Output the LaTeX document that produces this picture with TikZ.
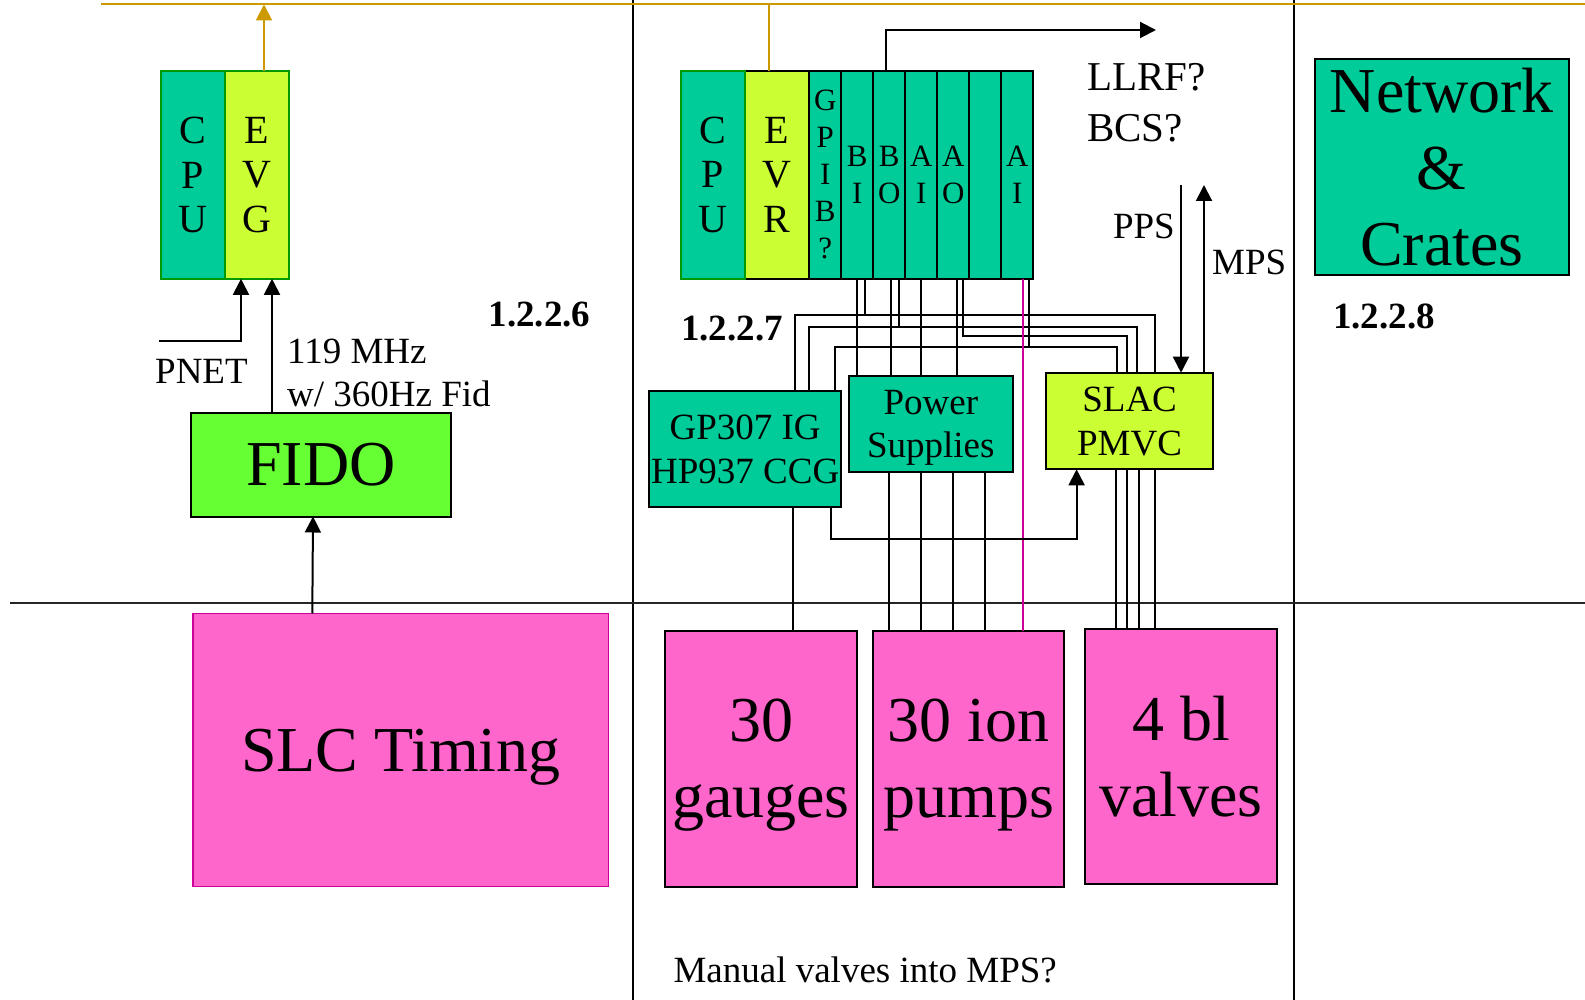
\documentclass[tikz,border=0pt]{standalone}
\usepackage{fontspec}
\setmainfont{Liberation Serif}
\usetikzlibrary{positioning, arrows.meta}

\definecolor{modgreen}{HTML}{00CC99}
\definecolor{modlime}{HTML}{CCFF33}
\definecolor{fidogreen}{HTML}{66FF33}
\definecolor{loadpink}{HTML}{FF66CC}
\definecolor{edgegreen}{HTML}{009900}
\definecolor{busorange}{HTML}{CC9900}
\definecolor{wiremag}{HTML}{CC0099}

\begin{document}
\begin{tikzpicture}[
  x=1pt, y=-1pt,
  >={Triangle[length=16pt,width=16pt]},
  module/.style={draw=edgegreen, fill=modgreen, line width=2pt, inner sep=0pt, outer sep=0pt, minimum width=64.3pt, minimum height=208pt, align=center, text depth=-4pt, font=\fontsize{40}{44.5}\selectfont},
  slot/.style={module, draw=black, minimum width=32pt, font=\fontsize{31}{37}\selectfont},
  box/.style={draw, line width=2pt, fill=modgreen, inner sep=0pt, outer sep=0pt, align=center, text depth=0pt, font=\fontsize{37}{43.5}\selectfont},
  load/.style={box, fill=loadpink, text depth=-6pt, font=\fontsize{64}{76}\selectfont},
  lbl/.style={anchor=base west, inner sep=0pt, font=\fontsize{37}{44}\selectfont},
  num/.style={lbl, font=\fontsize{37}{44}\selectfont\bfseries},
  wire/.style={line width=2pt},
  line/.style={->, line width=2pt},
  bus/.style={line width=2pt, draw=busorange}
]
\fill[white] (0,0) rectangle (1585,1000);
\useasboundingbox (0,0) rectangle (1585,1000);

% section frame
\draw[line width=2pt] (633,0) -- (633,1000);
\draw[line width=2pt] (1294,0) -- (1294,1000);
\draw[line width=1.5pt, black!85] (10,603) -- (1585,603);

% 1.2.2.6 : timing crate
\node[module] (cpuL) at (192.7,174.8) {C\\P\\U};
\node[module, fill=modlime, right=0pt of cpuL] (evg) {E\\V\\G};
\node[box, fill=fidogreen, minimum width=260pt, minimum height=104pt, font=\fontsize{64}{74}\selectfont] (fido) at (321,464.5) {FIDO};
\node[load, draw=wiremag, line width=1.5pt, minimum width=415.5pt, minimum height=273pt] (slc) at (400.8,750) {SLC Timing};

% 1.2.2.7 : vacuum crate
\node[module, fill=modlime, draw=black] (evr) at (777.1,174.7) {E\\V\\R};
\node[module, left=0pt of evr] (cpuM) {C\\P\\U};
\node[slot, right=0pt of evr] (gpib) {G\\P\\I\\B\\?};
\node[slot, right=0pt of gpib] (bi) {B\\I};
\node[slot, right=0pt of bi] (bo) {B\\O};
\node[slot, right=0pt of bo] (ai) {A\\I};
\node[slot, right=0pt of ai] (ao) {A\\O};
\node[slot, right=0pt of ao] (spare) {};
\node[slot, right=0pt of spare] (aiB) {A\\I};

% controllers
\node[box, minimum width=192.3pt, minimum height=116.6pt] (gp) at (745.2,449) {GP307 IG\\HP937 CCG};
\node[box, minimum width=163.8pt, minimum height=96.7pt] (ps) at (930.8,424) {Power\\Supplies};
\node[box, fill=modlime, minimum width=166.5pt, minimum height=96.6pt] (slac) at (1129.6,421) {SLAC\\PMVC};

% beamline hardware
\node[load, minimum width=192pt, minimum height=256pt] (gauges) at (761,758.5) {30\\gauges};
\node[load, minimum width=191.5pt, minimum height=256pt] (pumps) at (968.7,758.5) {30 ion\\pumps};
\node[load, minimum width=192pt, minimum height=255.5pt] (valves) at (1181,756.7) {4 bl\\valves};

% 1.2.2.8
\node[box, minimum width=254.4pt, minimum height=216pt, text depth=-4pt, font=\fontsize{64}{76.7}\selectfont] (net) at (1441.8,167) {Network\\\&\\Crates};

% labels
\node[lbl] (pnetT) at (155,383) {PNET};
\node[lbl] (freqA) at (287,363.3) {119 MHz};
\node[lbl] (freqB) at (287,406.7) {w/ 360Hz Fid};
\node[num] (wbs6) at (488.4,326.7) {1.2.2.6};
\node[num] (wbs7) at (681,340.7) {1.2.2.7};
\node[num] (wbs8) at (1333,328.3) {1.2.2.8};
\node[lbl, font=\fontsize{41}{44}\selectfont] (llrfT) at (1087,90.7) {LLRF?};
\node[lbl, font=\fontsize{41}{44}\selectfont] (bcsT) at (1087,141.7) {BCS?};
\node[lbl, anchor=base east] (ppsT) at (1175,238.3) {PPS};
\node[lbl] (mpsT) at (1212,275) {MPS};
\node[lbl] (noteT) at (673.3,982) {Manual valves into MPS?};

% timing bus
\coordinate (busW) at (101,4.5);
\coordinate (busE) at (1585,4.5);
\draw[bus] (busW) -- (busE);
\coordinate (evgUp) at ([xshift=7pt]evg.north);
\draw[bus, ->] (evgUp) -- (evgUp |- busW);
\coordinate (evrUp) at ([xshift=-8pt]evr.north);
\draw[bus] (evrUp) -- (evrUp |- busW);

% into the timing crate
\coordinate (pnetIn) at (158.5,340.7);
\draw[line] (pnetIn) -| ([xshift=-16pt]evg.south);
\coordinate (fidoUp) at ([xshift=-49pt]fido.north);
\draw[line] (fidoUp) -- (fidoUp |- evg.south);
\draw[line] ([xshift=-88.5pt]slc.north) -- ([xshift=-8pt]fido.south);

% out of the vacuum crate
\coordinate (llrfOut) at (1156,30);
\draw[line] ([xshift=-3pt]bo.north) |- (llrfOut);
\coordinate (ppsTop) at (1181,185);
\coordinate (mpsTop) at (1204,185);
\draw[line] (ppsTop) -- (ppsTop |- slac.north);
\draw[line] (mpsTop |- slac.north) -- (mpsTop);

% taps under the crate
\coordinate (tBI1) at (bi.south);
\coordinate (tBI2) at ([xshift=8pt]bi.south);
\coordinate (tBO1) at ([xshift=2pt]bo.south);
\coordinate (tBO2) at ([xshift=10pt]bo.south);
\coordinate (tAI1) at (ai.south);
\coordinate (tAO1) at ([xshift=4pt]ao.south);
\coordinate (tAO2) at ([xshift=10pt]ao.south);
\coordinate (tAIm) at ([xshift=6pt]aiB.south);
\coordinate (tAI2) at ([xshift=12pt]aiB.south);

% taps on the controllers
\coordinate (gA) at ([xshift=50pt]gp.north);
\coordinate (gB) at ([xshift=64pt]gp.north);
\coordinate (gD) at ([xshift=90pt]gp.north);
\coordinate (gG) at ([xshift=48pt]gp.south);
\coordinate (gS) at ([xshift=86pt]gp.south);
\coordinate (sA) at ([xshift=25pt]slac.north);
\coordinate (sB) at ([xshift=7pt]slac.north);
\coordinate (sC) at ([xshift=-3pt]slac.north);
\coordinate (sD) at ([xshift=-13pt]slac.north);
\coordinate (sIn) at ([xshift=-53pt]slac.south);

% cable levels
\coordinate (yA) at (0,315);
\coordinate (yB) at (0,326.7);
\coordinate (yC) at (0,336);
\coordinate (yD) at (0,346.7);
\coordinate (yE) at (0,539);

% crate <-> gauges / valves controllers
\draw[wire] (tBI2) -- (tBI2 |- yA);
\draw[wire] (gA) |- (sA |- yA) -- (sA);
\draw[wire] (tBO2) -- (tBO2 |- yB);
\draw[wire] (gB) |- (sB |- yB) -- (sB);
\draw[wire] (tAO2) |- (sC |- yC) -- (sC);
\draw[wire] (tAI2) -- (tAI2 |- yD);
\draw[wire] (gD) |- (sD |- yD) -- (sD);

% crate -> power supplies
\draw[wire] (tBI1) -- (tBI1 |- ps.north);
\draw[wire] (tBO1) -- (tBO1 |- ps.north);
\draw[wire] (tAI1) -- (tAI1 |- ps.north);
\draw[wire] (tAO1) -- (tAO1 |- ps.north);
\draw[wire, draw=wiremag] (tAIm) -- (tAIm |- pumps.north);

% gauge controller
\draw[wire] (gG) -- (gG |- gauges.north);
\draw[line] (gS) |- (sIn |- yE) -- (sIn);

% power supplies -> pumps
\coordinate (pA) at ([xshift=-79.7pt]pumps.north);
\coordinate (pB) at ([xshift=-47.7pt]pumps.north);
\coordinate (pC) at ([xshift=-15.3pt]pumps.north);
\coordinate (pD) at ([xshift=16.3pt]pumps.north);
\draw[wire] (pA |- ps.south) -- (pA);
\draw[wire] (pB |- ps.south) -- (pB);
\draw[wire] (pC |- ps.south) -- (pC);
\draw[wire] (pD |- ps.south) -- (pD);

% valve controller -> valves
\coordinate (vA) at ([xshift=-65.3pt]valves.north);
\coordinate (vB) at ([xshift=-54.3pt]valves.north);
\coordinate (vC) at ([xshift=-41.7pt]valves.north);
\coordinate (vD) at ([xshift=-26.3pt]valves.north);
\draw[wire] (vA |- slac.south) -- (vA);
\draw[wire] (vB |- slac.south) -- (vB);
\draw[wire] (vC |- slac.south) -- (vC);
\draw[wire] (vD |- slac.south) -- (vD);

\end{tikzpicture}
\end{document}
